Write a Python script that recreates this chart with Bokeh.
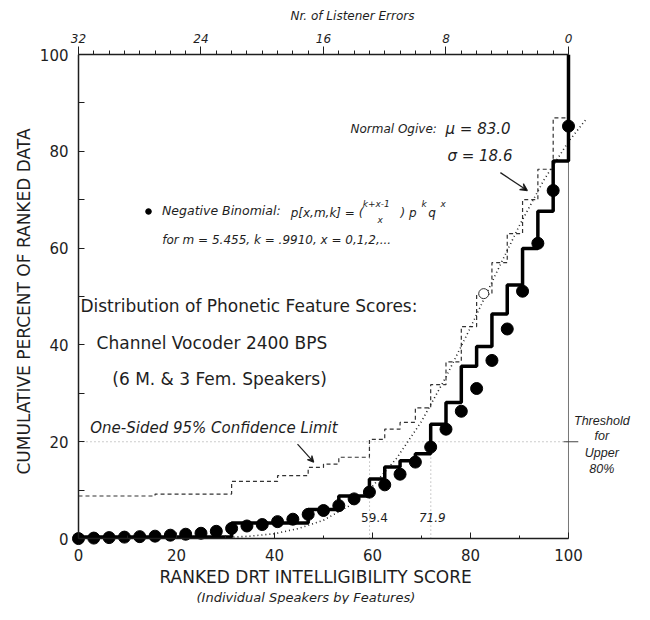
from bokeh.plotting import figure
from bokeh.models import (Range1d, LinearAxis, FixedTicker, Title, Label, Arrow,
                          VeeHead, Legend, LegendItem)
from bokeh.embed import file_html
from bokeh.resources import INLINE

# ---------------- data ----------------
nb_score = [0, 3.125, 6.25, 9.375, 12.5, 15.625, 18.75, 21.875, 25, 28.125, 31.25,
            34.375, 37.5, 40.625, 43.75, 46.875, 50, 53.125, 56.25, 59.375, 62.5,
            65.625, 68.75, 71.875, 75, 78.125, 81.25, 84.375, 87.5, 90.625, 93.75,
            96.875, 100]
nb_pct = [0.0, 0.1, 0.2, 0.3, 0.4, 0.5, 0.7, 0.9, 1.1, 1.5, 2.1, 2.6, 2.9, 3.5, 4.0,
          5.0, 5.8, 6.8, 8.2, 9.6, 11.1, 13.3, 15.8, 18.9, 22.6, 26.3, 31.0, 36.8,
          43.3, 51.1, 61.0, 71.9, 85.2]

emp_score = [0, 31.25, 46.875, 53.125, 59.375, 62.5, 65.625, 68.75, 71.875, 75,
             78.125, 81.25, 84.375, 87.5, 90.625, 93.75, 96.875, 100]
emp_pct = [0.3, 3.2, 6.0, 8.8, 12.3, 14.8, 16.1, 17.5, 23.6, 28.1, 35.6, 39.7, 46.4,
           52.4, 59.9, 67.6, 78.0, 100]

conf_score = [0, 15.625, 31.25, 40.625, 46.875, 50, 53.125, 59.375, 62.5, 65.625,
              68.75, 71.875, 75, 78.125, 81.25, 84.375, 87.5, 90.625, 93.75, 96.875, 100]
conf_pct = [8.8, 9.2, 11.8, 13.0, 14.7, 15.4, 16.8, 20.5, 22.6, 24.0, 27.0, 31.8,
            36.5, 43.8, 50.5, 57.0, 63.0, 70.0, 76.3, 86.9, 100]

ogive_score = [30, 35, 40, 45, 50, 55, 60, 65, 70, 75, 80, 85, 90, 95, 100, 103.5]
ogive_pct = [0.2, 0.5, 1.0, 2.1, 3.8, 6.6, 10.8, 16.7, 24.2, 33.4, 43.6, 54.3, 64.7,
             74.1, 82.0, 86.5]

mean_score = [82.7]
mean_pct = [50.6]

x_ticks = [0, 20, 40, 60, 80, 100]
x_minor = [10, 30, 50, 70, 90]
y_ticks = [0, 20, 40, 60, 80, 100]
y_minor = [10, 30, 50, 70, 90]
err_ticks = [0, 8, 16, 24, 32]
err_minor = list(range(0, 33))
threshold_pct = 20
limit_scores = [59.4, 71.9]

FONT = "DejaVu Sans"
INK = "#1e1e1e"
X0, X1 = -1.63, 113.47

p = figure(width=634, height=604, x_range=Range1d(X0, X1),
           y_range=Range1d(-2.05, 100),
           output_backend="svg", toolbar_location=None,
           min_border_left=70, min_border_right=0, min_border_top=54,
           min_border_bottom=53)
p.outline_line_color = None
p.xgrid.visible = False
p.ygrid.visible = False

# --- label-only axes at the frame edges ---
xa = p.xaxis[0]
xa.ticker = FixedTicker(ticks=x_ticks)
xa.axis_line_color = None
xa.major_tick_line_color = None
xa.minor_tick_line_color = None
xa.major_tick_out = 0
xa.major_tick_in = 0
xa.major_label_text_font = FONT
xa.major_label_text_font_size = "15px"
xa.major_label_text_color = INK
xa.major_label_standoff = 0

ya = p.yaxis[0]
ya.ticker = FixedTicker(ticks=y_ticks)
ya.axis_line_color = None
ya.major_tick_line_color = None
ya.minor_tick_line_color = None
ya.major_tick_out = 0
ya.major_tick_in = 0
ya.major_label_text_font = FONT
ya.major_label_text_font_size = "15px"
ya.major_label_text_color = INK
ya.major_label_standoff = 2

# --- top axis: number of listener errors ---
p.extra_x_ranges = {"err": Range1d(32 - 0.32 * X0, 32 - 0.32 * X1)}
ta = LinearAxis(x_range_name="err", axis_label="Nr. of Listener Errors")
ta.bounds = (0, 32)
ta.ticker = FixedTicker(ticks=err_ticks, minor_ticks=err_minor)
ta.major_tick_out = 8
ta.major_tick_in = 0
ta.minor_tick_out = 4
ta.minor_tick_in = 0
ta.axis_line_width = 1.6
ta.axis_line_color = INK
ta.major_tick_line_color = INK
ta.minor_tick_line_color = INK
ta.major_label_text_font = FONT
ta.major_label_text_font_style = "italic"
ta.major_label_text_font_size = "12px"
ta.major_label_text_color = INK
ta.major_label_standoff = 4
ta.axis_label_text_font = FONT
ta.axis_label_text_font_style = "italic"
ta.axis_label_text_font_size = "12px"
ta.axis_label_text_color = INK
ta.axis_label_standoff = 8
p.add_layout(ta, "above")

p.add_layout(Title(text="RANKED DRT INTELLIGIBILITY SCORE", align="left", offset=89,
                   text_font=FONT, text_font_size="17px", text_font_style="normal",
                   text_color=INK, standoff=2), "below")
p.add_layout(Title(text="(Individual Speakers by Features)", align="left", offset=126,
                   text_font=FONT, text_font_size="13px", text_font_style="italic",
                   text_color=INK, standoff=0), "below")

# --- line+tick axes crossing at the data origin ---
bx = LinearAxis(fixed_location=0, bounds=(0, 100))
bx.ticker = FixedTicker(ticks=x_ticks, minor_ticks=x_minor)
bx.major_label_overrides = {t: "" for t in x_ticks}
bx.major_label_standoff = 0
bx.major_tick_in = 6
bx.major_tick_out = 0
bx.minor_tick_in = 3
bx.minor_tick_out = 0
bx.axis_line_width = 1.5
bx.axis_line_color = INK
bx.major_tick_line_color = INK
bx.minor_tick_line_color = INK
p.add_layout(bx, "below")

ly = LinearAxis(fixed_location=0, bounds=(0, 100))
ly.ticker = FixedTicker(ticks=y_ticks, minor_ticks=y_minor)
ly.major_label_overrides = {t: "" for t in y_ticks}
ly.major_label_standoff = 0
ly.major_tick_in = 6
ly.major_tick_out = 0
ly.minor_tick_in = 6
ly.minor_tick_out = 0
ly.axis_line_width = 1.5
ly.axis_line_color = INK
ly.major_tick_line_color = INK
ly.minor_tick_line_color = INK
p.add_layout(ly, "left")

p.add_layout(Title(text="CUMULATIVE PERCENT OF RANKED DATA", align="center",
                   text_font=FONT, text_font_size="17px", text_font_style="normal",
                   text_color=INK, standoff=6), "left")

# --- reference lines ---
p.line([0, 100], [threshold_pct, threshold_pct], line_color="#9a9a9a", line_width=1,
       line_dash="1 3")
for s in limit_scores:
    p.line([s, s], [0, threshold_pct], line_color="#9a9a9a", line_width=1,
           line_dash="1 3")
p.line([100, 100], [0, emp_pct[-2]], line_color="#777777", line_width=1)
p.line([99, 102], [threshold_pct, threshold_pct], line_color="#444444", line_width=1)

# --- confidence limit (dashed staircase) ---
p.step(conf_score, conf_pct, mode="after", line_color="#333333", line_width=1.2,
       line_dash="4 3")
# --- normal ogive ---
p.line(ogive_score, ogive_pct, line_color="#222222", line_width=1.6, line_dash="1 3")
# --- empirical staircase ---
p.step(emp_score, emp_pct, mode="after", line_color="black", line_width=3.5)
# --- negative binomial points ---
nb = p.scatter(nb_score, nb_pct, size=12, marker="circle", fill_color="black",
               line_color="black")
p.scatter(mean_score, mean_pct, size=10, marker="circle", fill_color="white",
          line_color="#333333", line_width=1)

leg = Legend(items=[LegendItem(label="Negative Binomial:", renderers=[nb])],
             location=(71, 330), background_fill_alpha=0, border_line_alpha=0,
             padding=0, margin=0, glyph_width=14, glyph_height=14, label_standoff=7,
             label_text_font=FONT, label_text_font_style="italic",
             label_text_font_size="12.5px", label_text_color=INK)
p.add_layout(leg, "center")


def lab(x, y, t, size="12px", style="italic", align="left", font=FONT):
    p.add_layout(Label(x=x, y=y, text=t, text_font=font, text_font_size=size,
                       text_font_style=style, text_align=align,
                       text_baseline="middle", text_color=INK))


lab(55.5, 84.6, "Normal Ogive:")
lab(74.9, 84.6, "\u03bc = 83.0", size="15px")
lab(75.3, 79.0, "\u03c3 = 18.6", size="15px")
p.add_layout(Arrow(x_start=86.1, y_start=75.6, x_end=91.6, y_end=71.9,
                   line_width=1.3, line_color=INK,
                   end=VeeHead(size=7, line_color=INK, line_width=1.3)))

lab(43.3, 67.2, "p[x,m,k] = (")
lab(58.0, 69.2, "k+x-1", size="9px")
lab(61.0, 65.9, "x", size="9px")
lab(65.7, 67.2, ") p")
lab(70.0, 69.2, "k", size="9px")
lab(71.4, 67.2, "q")
lab(73.9, 69.2, "x", size="9px")
lab(17.1, 61.6, "for  m = 5.455,  k = .9910,  x = 0,1,2,...")

lab(0.4, 48.0, "Distribution of Phonetic Feature Scores:", size="17px", style="normal")
lab(3.7, 40.5, "Channel Vocoder 2400 BPS", size="17px", style="normal")
lab(6.9, 32.9, "(6 M. & 3 Fem. Speakers)", size="17px", style="normal")

lab(2.4, 22.8, "One-Sided 95% Confidence Limit", size="15px")
p.add_layout(Arrow(x_start=44.7, y_start=19.5, x_end=48.0, y_end=15.8,
                   line_width=1.2, line_color=INK,
                   end=VeeHead(size=6, line_color=INK, line_width=1.2)))

TF = "Liberation Sans"
lab(106.8, 24.2, "Threshold", size="12.5px", align="center", font=TF)
lab(106.8, 21.1, "for", size="12.5px", align="center", font=TF)
lab(106.8, 17.7, "Upper", size="12.5px", align="center", font=TF)
lab(106.8, 14.4, "80%", size="12.5px", align="center", font=TF)

lab(60.4, 4.3, "59.4", size="12px", style="normal", align="center")
lab(72.2, 4.3, "71.9", size="12px", style="italic", align="center")

open("out.html", "w").write(file_html(p, INLINE))
